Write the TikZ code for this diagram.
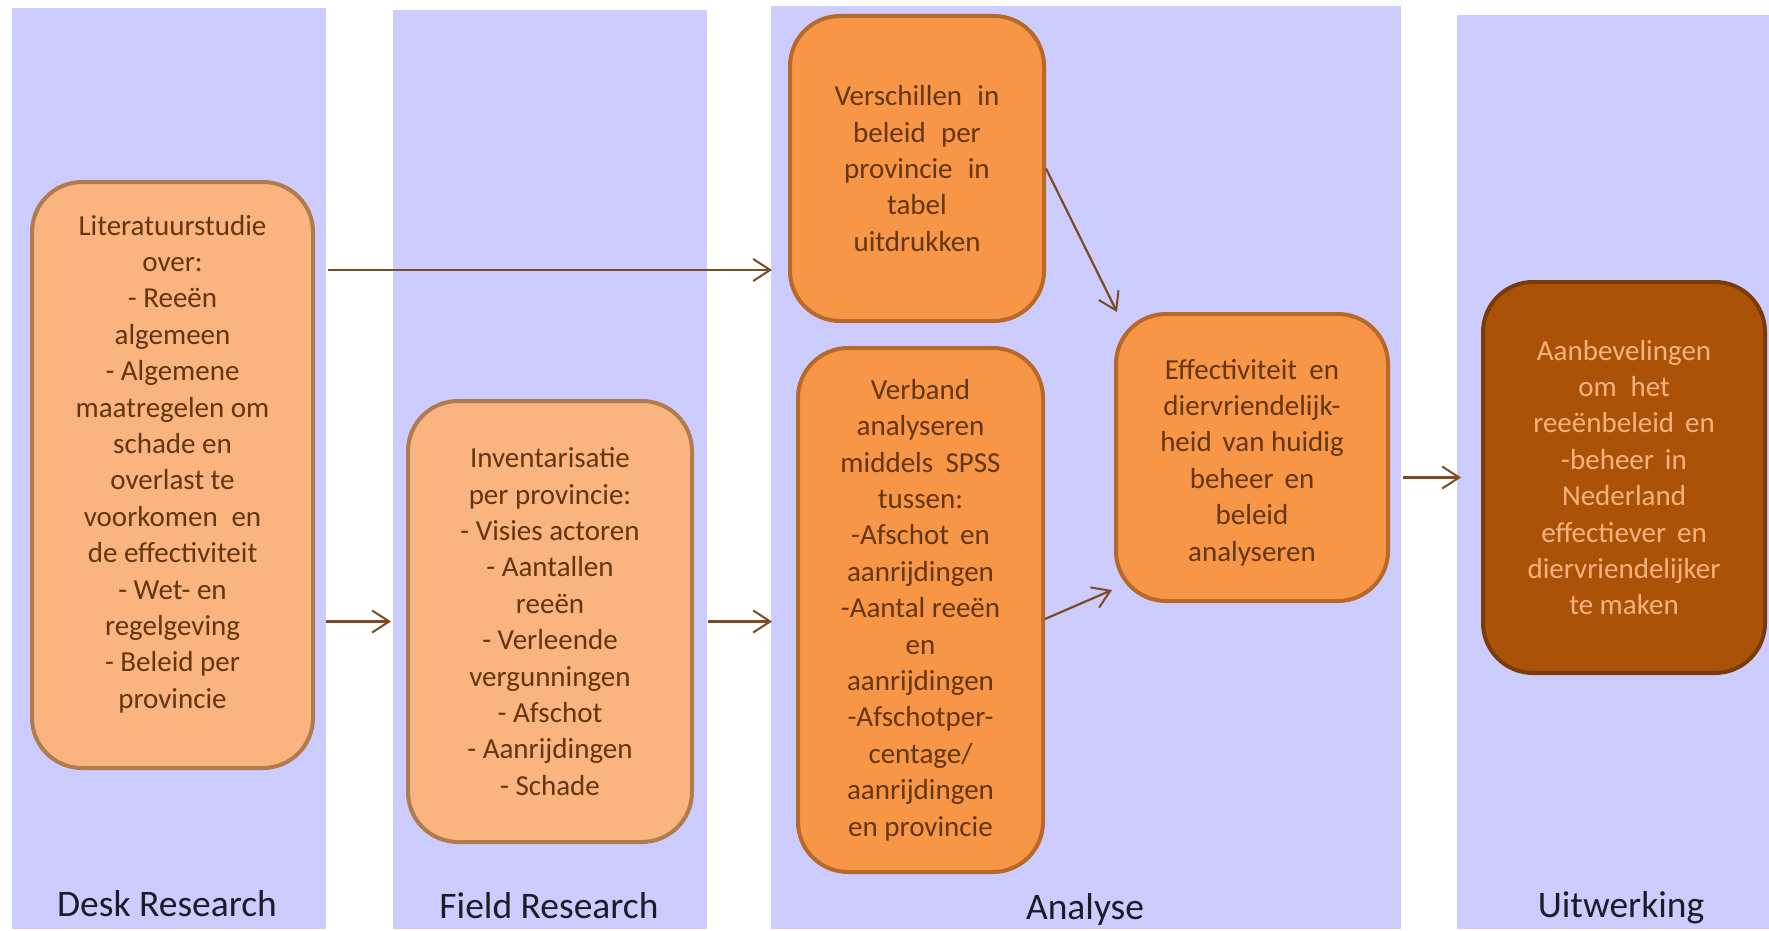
\documentclass[tikz,border=0pt]{standalone}
\usepackage{fontspec}
\setmainfont{Carlito}
\usetikzlibrary{arrows.meta,calc}
\definecolor{colbg}{HTML}{CCCCFF}
\definecolor{lightfill}{HTML}{F9B47F}
\definecolor{lightdraw}{HTML}{B27B4E}
\definecolor{orfill}{HTML}{F79646}
\definecolor{ordraw}{HTML}{B8692A}
\definecolor{dkfill}{HTML}{AB5209}
\definecolor{dkdraw}{HTML}{7B3B07}
\definecolor{boxtext}{HTML}{64360F}
\definecolor{dktext}{HTML}{F9B27C}
\definecolor{arrowc}{HTML}{7E4A24}
\definecolor{labeltext}{HTML}{1C1C28}
\begin{document}
\begin{tikzpicture}[x=1pt,y=-1pt,
  column/.style={fill=colbg, draw=none},
  boxbase/.style={rectangle, rounded corners=50pt, line width=4pt, inner sep=0pt},
  boxfont/.style={align=center, font=\fontsize{29}{36.4}\selectfont, text=boxtext},
  lightbox/.style={boxbase, boxfont, fill=lightfill, draw=lightdraw},
  orbox/.style={boxbase, boxfont, fill=orfill, draw=ordraw},
  dkbox/.style={boxbase, boxfont, fill=dkfill, draw=dkdraw, text=dktext},
  plaintext/.style={boxfont, inner sep=0pt},
  collabel/.style={font=\fontsize{37.5}{40}\selectfont, text=labeltext, inner sep=0pt},
  arr/.style={draw=arrowc, line width=2.2pt, -{Straight Barb[length=17pt,width=22pt,line width=2pt]}}
]
\useasboundingbox (0,0) rectangle (1769,931);
\fill[white] (0,0) rectangle (1769,931);
% columns
\fill[column] (12,8) rectangle (326,929);
\fill[column] (393,10) rectangle (707,929);
\fill[column] (771,6) rectangle (1401,929);
\fill[column] (1457,15) rectangle (1769,929);

% column labels
\node[collabel] (ldesk) at (167,904) {Desk Research};
\node[collabel] (lfield) at (549,906) {Field Research};
\node[collabel] (lanal) at (1085,909) {Analyse};
\node[collabel] (luitw) at (1621,908) {Uitwerking};

% boxes
\node[lightbox, minimum width=281pt, minimum height=586pt] (lit) at (172.5,475) {};
\node[plaintext] (littext) at ([yshift=11pt]lit.center) {Literatuurstudie\\over:\\- Reeën\\algemeen\\- Algemene\\maatregelen om\\schade en\\overlast te\\voorkomen\hspace{0.25em} en\\de effectiviteit\\- Wet- en\\regelgeving\\- Beleid per\\provincie};

\node[lightbox, minimum width=284pt, minimum height=441pt] (inv) at (550,621.5) {Inventarisatie\\per provincie:\\- Visies actoren\\- Aantallen\\reeën\\- Verleende\\vergunningen\\- Afschot\\- Aanrijdingen\\- Schade};

\node[orbox, minimum width=254pt, minimum height=305pt] (ver) at (917,168.5) {Verschillen\hspace{0.3em} in\\beleid\hspace{0.3em} per\\provincie\hspace{0.3em} in\\tabel\\uitdrukken};

\node[orbox, minimum width=245pt, minimum height=524pt] (verband) at (920.5,610) {Verband\\analyseren\\middels\hspace{0.2em} SPSS\\tussen:\\-Afschot\hspace{0.15em} en\\aanrijdingen\\-Aantal reeën\\en\\aanrijdingen\\-Afschotper-\\centage/\\aanrijdingen\\en provincie};

\node[orbox, minimum width=272pt, minimum height=287pt] (eff) at (1252,457.5) {};
\node[plaintext] (efftext) at ([yshift=-5pt]eff.center) {Effectiviteit\hspace{0.2em} en\\diervriendelijk-\\heid\hspace{0.15em} van huidig\\beheer\hspace{0.15em} en\\beleid\\analyseren};

\node[dkbox, minimum width=282pt, minimum height=391pt] (aan) at (1624,477.5) {Aanbevelingen\\om\hspace{0.25em} het\\reeënbeleid\hspace{0.15em} en\\-beheer\hspace{0.15em} in\\Nederland\\effectiever\hspace{0.15em} en\\diervriendelijker\\te maken};

% connectors
\draw[arr, shorten <=13pt, shorten >=16pt] ([yshift=205pt]lit.east) -- ([yshift=205pt]lit.east -| ver.west);
\draw[arr, shorten <=11pt, shorten >=15pt] (lit.east |- inv.west) -- (inv.west);
\draw[arr, shorten <=14pt, shorten >=24pt] (inv.east) -- (inv.east -| verband.west);
\draw[arr] (ver.east) -- ([xshift=3pt]eff.north west);
\draw[arr] ([yshift=-9pt]verband.east) -- ([xshift=-2pt,yshift=13pt]eff.south west);
\draw[arr, shorten <=13pt, shorten >=20pt] (eff.east |- aan.west) -- (aan.west);
\end{tikzpicture}
\end{document}
